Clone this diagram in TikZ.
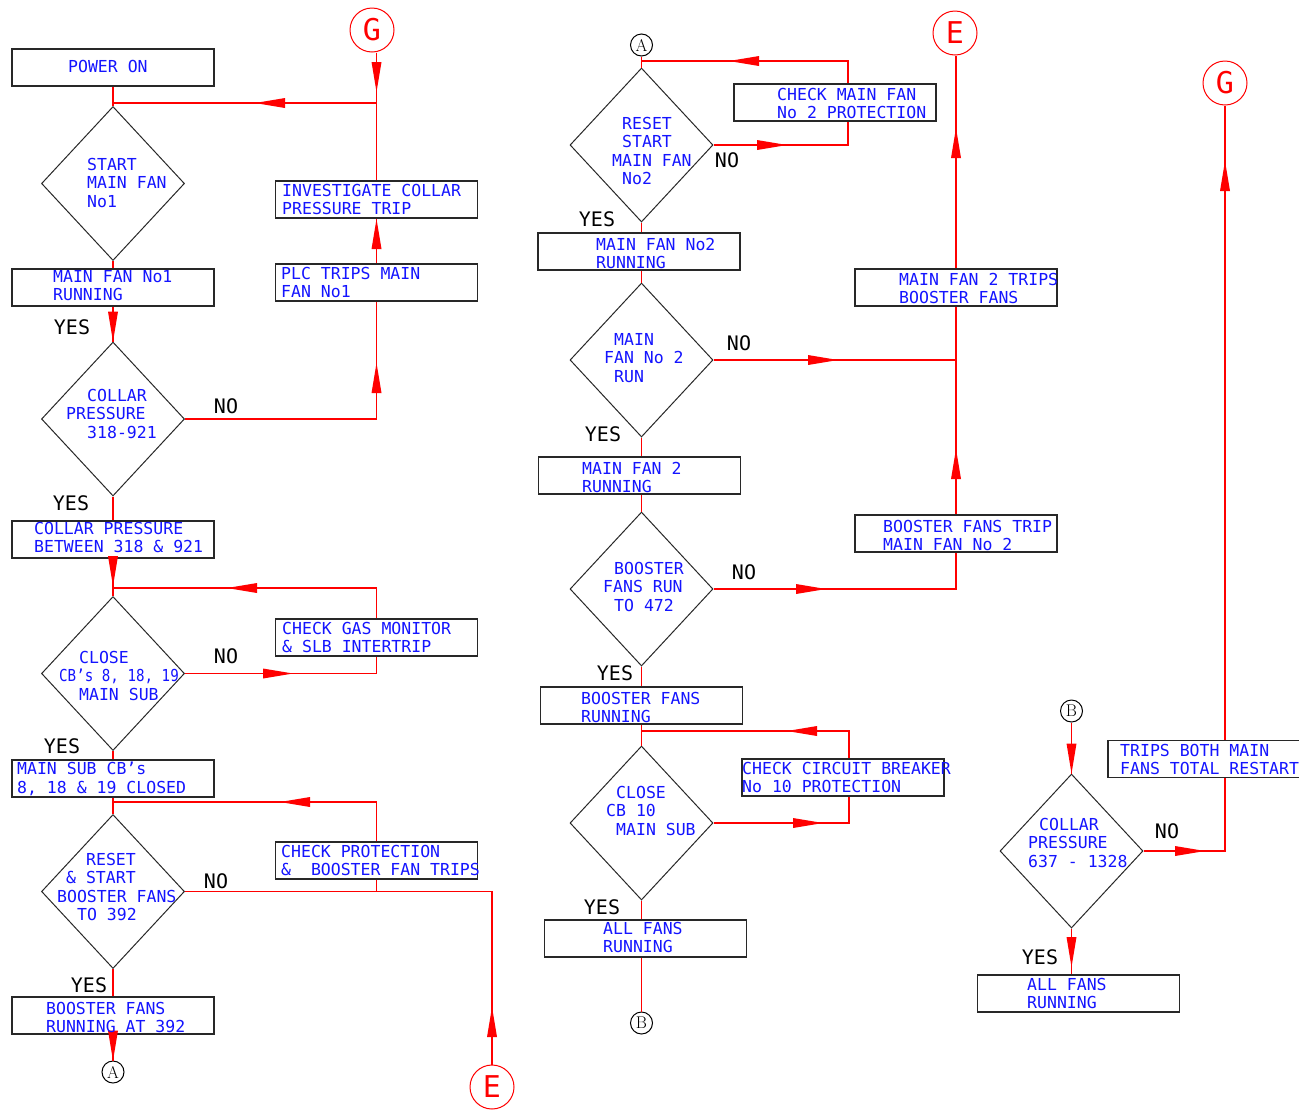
\documentclass[tikz,border=0pt]{standalone}
\usepackage{fontspec}
\setmonofont{DejaVu Sans Mono}
\usetikzlibrary{shapes.geometric}
\definecolor{cadblue}{RGB}{20,20,255}
\definecolor{cadred}{RGB}{255,0,0}
\definecolor{cadline}{RGB}{40,40,40}
\newcommand\cadind[1]{\hspace*{#1pt}}
\tikzset{
 box/.style={draw=cadline, line width=1.3pt, minimum width=202pt, minimum height=37pt, inner sep=0pt},
 dia/.style={draw=cadline, line width=1pt, diamond, minimum width=143pt, minimum height=154pt, inner sep=0pt},
 txt/.style={text=cadblue, font=\ttfamily\fontsize{16.5}{18.4}\selectfont, align=left, inner sep=0pt, anchor=north west},
 yn/.style={text=black, font=\ttfamily\fontsize{20}{22}\selectfont, inner sep=0pt},
 conn/.style={draw=cadred, line width=1.1pt},
 rcirc/.style={circle, draw=cadred, line width=1pt, minimum size=44pt, inner sep=0pt, text=cadred, font=\ttfamily\fontsize{30}{30}\selectfont},
 kcirc/.style={circle, draw=black, line width=1pt, minimum size=22pt, inner sep=0pt, font=\rmfamily\fontsize{17}{17}\selectfont},
 ar/.pic={\fill[cadred] (0,0) -- (-30,-5) -- (-30,5) -- cycle;},
 al/.pic={\fill[cadred] (0,0) -- (30,-5) -- (30,5) -- cycle;},
 au/.pic={\fill[cadred] (0,0) -- (-5,30) -- (5,30) -- cycle;},
 ad/.pic={\fill[cadred] (0,0) -- (-5,-30) -- (5,-30) -- cycle;},
}
\begin{document}
\begin{tikzpicture}[x=1pt,y=-1pt]
\path[fill=white,use as bounding box] (0,0) rectangle (1299,1112);

% ---------------- column 1 ----------------
\node[box] (p1) at (113,67.5) {};
\node[dia] (d1) at (113,183.5) {};
\node[box] (b2) at (113,287.5) {};
\node[dia] (d2) at (113,419) {};
\node[box] (b3) at (113,539.5) {};
\node[dia] (d3) at (113,673.5) {};
\node[box] (b4) at (113,778.5) {};
\node[dia] (d4) at (113,891.5) {};
\node[box] (b5) at (113,1015.5) {};
\node[kcirc] (a1) at (113,1072) {A};
\coordinate (j1) at (113,103);
\coordinate (j2) at (113,588);
\coordinate (j3) at (113,802);

\node[rcirc] (g1) at (372,30) {G};
\node[box] (inv) at (376.5,199.5) {};
\node[box] (plc) at (376.5,282.5) {};
\node[box] (gas) at (376.5,637.5) {};
\node[box] (prot) at (376.5,860.5) {};
\node[rcirc] (e1) at (492,1087) {E};

\draw[conn] (p1.south) -- (d1.north);
\draw[conn] (inv.north |- g1.south) -- (inv.north);
\draw[conn] (inv.north |- j1) -- (j1);
\draw[conn] (plc.north) -- (inv.south);
\draw[conn] (d2.east) -- (plc.south |- d2.east) -- (plc.south);
\draw[conn] (d1.south) -- (b2.north);
\draw[conn] (b2.south) -- (d2.north);
\draw[conn] (d2.south) -- (b3.north);
\draw[conn] (b3.south) -- (d3.north);
\draw[conn] (gas.north) -- (gas.north |- j2) -- (j2);
\draw[conn] (d3.east) -- (gas.south |- d3.east) -- (gas.south);
\draw[conn] (d3.south) -- (b4.north);
\draw[conn] (b4.south) -- (d4.north);
\draw[conn] (prot.north) -- (prot.north |- j3) -- (j3);
\draw[conn] (d4.east) -- (e1.north |- d4.east) -- (e1.north);
\draw[conn] (prot.south) -- (prot.south |- d4.east);
\draw[conn] (d4.south) -- (b5.north);
\draw[conn] (b5.south) -- (a1.north);

\pic at (376.5,92) {ad};
\pic at (255,103) {al};
\pic at (376.5,219) {au};
\pic at (376.5,363) {au};
\pic at (d2.north) {ad};
\pic at (113,586) {ad};
\pic at (227,588) {al};
\pic at (293,673.5) {ar};
\pic at (280,802) {al};
\pic at (492,1007) {au};
\pic at (a1.north) {ad};

\node[txt] (t1) at (68,60) {POWER ON};
\node[txt] (t2) at (53,270) {MAIN FAN No1\\RUNNING};
\node[txt] (t3) at (282,184) {INVESTIGATE COLLAR\\PRESSURE TRIP};
\node[txt] (t4) at (281,267) {PLC TRIPS MAIN\\FAN No1};
\node[txt] (t5) at (34,522) {COLLAR PRESSURE\\BETWEEN 318 \& 921};
\node[txt] (t6) at (282,622) {CHECK GAS MONITOR\\\& SLB INTERTRIP};
\node[txt] (t7) at (17,762) {MAIN SUB CB’s\\8, 18 \& 19 CLOSED};
\node[txt] (t8) at (281,845) {CHECK PROTECTION\\\&\ \ BOOSTER FAN TRIPS};
\node[txt] (t9) at (46,1002) {BOOSTER FANS\\RUNNING AT 392};

\node[txt] (dt1) at (87,158) {START\\MAIN FAN\\No1};
\node[txt] (dt2) at (66,389) {\cadind{21}COLLAR\\PRESSURE\\\cadind{21}318-921};
\node[txt] (dt3) at (59,651) {\cadind{20}CLOSE\\{\addfontfeature{FakeStretch=0.86}CB’s 8, 18, 19}\\\cadind{20}MAIN SUB};
\node[txt] (dt4) at (57,853) {\cadind{29}RESET\\\cadind{9}\& START\\BOOSTER FANS\\\cadind{20}TO 392};

\node[yn] (y1) at (72,327) {YES};
\node[yn] (n1) at (226,406) {NO};
\node[yn] (y2) at (71,503) {YES};
\node[yn] (n2) at (226,656) {NO};
\node[yn] (y3) at (62,746) {YES};
\node[yn] (n3) at (216,881) {NO};
\node[yn] (y4) at (89,985) {YES};

% ---------------- column 2 ----------------
\node[kcirc] (a2) at (641.5,45) {A};
\coordinate (j4) at (641.5,61);
\node[dia] (d5) at (641.5,145) {};
\node[box] (cmf) at (835,102.5) {};
\coordinate (k1) at (848,61);
\node[box] (b6) at (639,251.5) {};
\node[dia] (d6) at (641.5,360) {};
\node[box] (b7) at (639.5,475.5) {};
\node[dia] (d7) at (641.5,589) {};
\node[box] (b8) at (641.5,705.5) {};
\coordinate (j5) at (641.5,731);
\node[dia] (d8) at (641.5,823) {};
\node[box] (ccb) at (843,777.5) {};
\coordinate (k2) at (849,731);
\node[box] (b9) at (645.5,938.5) {};
\node[kcirc] (bb1) at (641.5,1023) {B};
\node[rcirc] (e2) at (955,33) {E};
\node[box] (mft) at (956,287.5) {};
\node[box] (bft) at (956,533.5) {};

\draw[conn] (a2.south) -- (d5.north);
\draw[conn] (k1 |- cmf.north) -- (k1) -- (j4);
\draw[conn] (d5.east) -- (k1 |- d5.east) -- (k1 |- cmf.south);
\draw[conn] (d5.south) -- (d5.south |- b6.north);
\draw[conn] (d6.north |- b6.south) -- (d6.north);
\draw[conn] (d6.east) -- (mft.south |- d6.east);
\draw[conn] (mft.north) -- (mft.north |- e2.south);
\draw[conn] (bft.north) -- (mft.south);
\draw[conn] (d6.south) -- (d6.south |- b7.north);
\draw[conn] (d7.north |- b7.south) -- (d7.north);
\draw[conn] (d7.east) -- (bft.south |- d7.east) -- (bft.south);
\draw[conn] (d7.south) -- (d7.south |- b8.north);
\draw[conn] (d8.north |- b8.south) -- (d8.north);
\draw[conn] (k2 |- ccb.north) -- (k2) -- (j5);
\draw[conn] (d8.east) -- (k2 |- d8.east) -- (k2 |- ccb.south);
\draw[conn] (d8.south) -- (d8.south |- b9.north);
\draw[conn] (bb1.north |- b9.south) -- (bb1.north);

\pic at (729,61) {al};
\pic at (787,145) {ar};
\pic at (838,360) {ar};
\pic at (956,449) {au};
\pic at (956,128) {au};
\pic at (826,589) {ar};
\pic at (787,731) {al};
\pic at (823,823) {ar};

\node[txt] (t10) at (777,88) {CHECK MAIN FAN\\No 2 PROTECTION};
\node[txt] (t11) at (596,238) {MAIN FAN No2\\RUNNING};
\node[txt] (t12) at (899,273) {MAIN FAN 2 TRIPS\\BOOSTER FANS};
\node[txt] (t13) at (582,462) {MAIN FAN 2\\RUNNING};
\node[txt] (t14) at (883,520) {BOOSTER FANS TRIP\\MAIN FAN No 2};
\node[txt] (t15) at (581,692) {BOOSTER FANS\\RUNNING};
\node[txt] (t16) at (742,762) {CHECK CIRCUIT BREAKER\\No 10 PROTECTION};
\node[txt] (t17) at (603,922) {ALL FANS\\RUNNING};

\node[txt] (dt5) at (612,117) {\cadind{10}RESET\\\cadind{10}START\\MAIN FAN\\\cadind{10}No2};
\node[txt] (dt6) at (604,333) {\cadind{10}MAIN\\FAN No 2\\\cadind{10}RUN};
\node[txt] (dt7) at (603,562) {\cadind{11}BOOSTER\\FANS RUN\\\cadind{11}TO 472};
\node[txt] (dt8) at (606,786) {\cadind{10}CLOSE\\CB 10\\\cadind{10}MAIN SUB};

\node[yn] (n4) at (727,160) {NO};
\node[yn] (y5) at (597,219) {YES};
\node[yn] (n5) at (739,343) {NO};
\node[yn] (y6) at (603,434) {YES};
\node[yn] (n6) at (744,572) {NO};
\node[yn] (y7) at (615,673) {YES};
\node[yn] (y8) at (602,907) {YES};

% ---------------- column 3 ----------------
\node[rcirc] (g2) at (1225,83) {G};
\node[box] (tb) at (1209,759) {};
\node[kcirc] (bb2) at (1071.5,711) {B};
\node[dia] (d9) at (1071.5,851) {};
\node[box] (b10) at (1078.5,993.5) {};

\draw[conn] (g2.south |- tb.north) -- (g2.south);
\draw[conn] (d9.east) -- (g2.south |- d9.east) -- (g2.south |- tb.south);
\draw[conn] (bb2.south) -- (d9.north);
\draw[conn] (d9.south) -- (d9.south |- b10.north);

\pic at (1225,161) {au};
\pic at (1205,851) {ar};
\pic at (d9.north) {ad};
\pic at (1071.5,967) {ad};

\node[txt] (t18) at (1120,744) {TRIPS BOTH MAIN\\FANS TOTAL RESTART};
\node[txt] (t19) at (1027,978) {ALL FANS\\RUNNING};
\node[txt] (dt9) at (1028,818) {\cadind{11}COLLAR\\PRESSURE\\637 - 1328};

\node[yn] (n7) at (1167,831) {NO};
\node[yn] (y9) at (1040,957) {YES};
\end{tikzpicture}
\end{document}
